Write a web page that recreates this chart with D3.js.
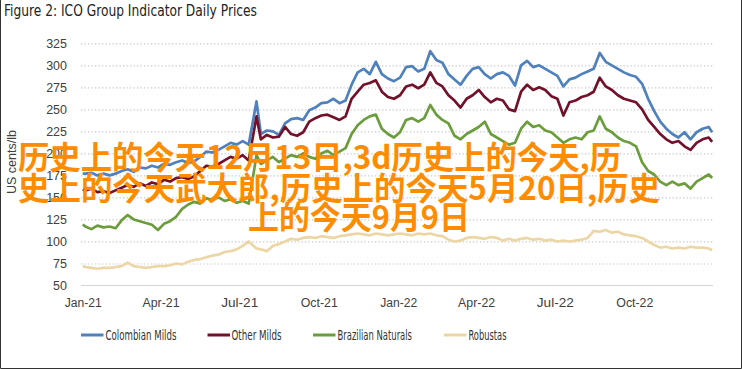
<!DOCTYPE html>
<html>
<head>
<meta charset="utf-8">
<script src="https://cdn.jsdelivr.net/npm/d3@7"></script>
<style>
  html, body { margin: 0; padding: 0; background: #fff; }
  svg { display: block; }
</style>
</head>
<body>
<div id="chart"></div>
<script>
// ---------------- DATA ----------------
const dates = [
  "2021-01-01",
  "2021-01-04","2021-01-11","2021-01-18","2021-01-25","2021-02-01","2021-02-08","2021-02-15","2021-02-22","2021-03-01","2021-03-08","2021-03-15","2021-03-22","2021-03-29",
  "2021-04-05","2021-04-12","2021-04-19","2021-04-26","2021-05-03","2021-05-10","2021-05-17","2021-05-24","2021-05-31","2021-06-07","2021-06-14","2021-06-21","2021-06-28",
  "2021-07-05","2021-07-12","2021-07-21","2021-07-26","2021-08-02","2021-08-09","2021-08-16","2021-08-23","2021-08-30","2021-09-06","2021-09-13","2021-09-20","2021-09-27",
  "2021-10-04","2021-10-11","2021-10-18","2021-10-25","2021-11-01","2021-11-08","2021-11-15","2021-11-22","2021-11-29","2021-12-06","2021-12-13","2021-12-20","2021-12-27",
  "2022-01-03","2022-01-10","2022-01-17","2022-01-24","2022-01-31","2022-02-07","2022-02-14","2022-02-21","2022-02-28","2022-03-07","2022-03-14","2022-03-21","2022-03-28",
  "2022-04-04","2022-04-11","2022-04-18","2022-04-25","2022-05-02","2022-05-09","2022-05-16","2022-05-23","2022-05-30","2022-06-06","2022-06-13","2022-06-20","2022-06-27",
  "2022-07-04","2022-07-11","2022-07-18","2022-07-25","2022-08-01","2022-08-08","2022-08-15","2022-08-22","2022-08-29","2022-09-05","2022-09-12","2022-09-19","2022-09-26",
  "2022-10-03","2022-10-10","2022-10-17","2022-10-24","2022-10-31","2022-11-07","2022-11-14","2022-11-21","2022-11-28","2022-12-05","2022-12-12","2022-12-19","2022-12-26",
  "2022-12-30"
];

const colombianMilds = [
  177,
  177,178,175,177,175,177,180,182,179,184,183,186,184,
  188,187,190,192,189,191,196,202,201,204,208,212,210,
  214,210,259,222,226,225,221,234,239,240,238,249,252,
  257,258,262,257,260,278,292,296,290,304,290,285,282,
  286,298,299,293,296,316,306,303,290,284,278,288,296,
  298,290,285,290,292,288,277,300,305,298,300,296,292,
  288,276,284,286,290,293,296,314,304,300,296,292,289,
  287,279,262,248,236,228,222,218,224,216,224,228,230,
  224
];

const otherMilds = [
  159,
  158,160,156,157,155,158,161,164,162,166,163,167,165,
  170,168,172,173,171,174,180,186,185,188,192,196,194,
  198,192,242,216,221,218,219,230,222,220,224,236,240,
  243,244,241,238,242,262,270,278,280,283,270,264,262,
  266,276,278,274,278,292,280,276,266,260,252,262,266,
  272,264,258,262,260,250,248,270,278,272,275,272,265,
  262,243,258,260,264,266,270,286,276,272,266,262,260,
  258,250,238,230,222,216,212,214,208,204,212,216,218,
  213
];

const brazilianNaturals = [
  119,
  117,114,118,116,117,115,124,130,125,123,121,119,113,
  120,123,128,137,142,145,143,149,147,150,146,148,144,
  146,143,198,188,192,196,190,194,198,196,200,196,194,
  200,203,198,202,206,222,232,238,242,244,228,222,218,
  224,238,240,236,240,255,244,238,234,220,216,222,226,
  230,236,222,218,214,210,212,228,236,230,232,226,224,
  218,212,216,218,216,224,226,242,228,224,218,214,212,
  208,190,180,176,168,164,168,164,166,160,168,172,176,
  172
];

const robustas = [
  72,
  71,70,69,70,70,71,72,76,72,71,70,71,72,
  72,73,75,74,77,79,80,82,84,85,88,89,91,
  95,100,92,91,89,95,97,100,103,102,104,105,104,
  106,105,104,106,107,108,109,108,107,109,108,107,108,
  109,108,107,109,108,109,107,106,102,100,101,104,105,
  104,103,105,104,101,103,101,103,104,102,103,101,102,
  100,101,100,101,102,104,112,111,113,110,111,108,107,
  106,104,100,96,93,94,92,93,92,94,93,93,92,
  90
];

const seriesNames = ["Colombian Milds", "Other Milds", "Brazilian Naturals", "Robustas"];
const yTicks = [50, 75, 100, 125, 150, 175, 200, 225, 250, 275, 300, 325];
const xTickDates = ["2021-01-01","2021-04-01","2021-07-01","2021-10-01","2022-01-01","2022-04-01","2022-07-01","2022-10-01"];
const xTickLabels = ["Jan-21","Apr-21","Jul-21","Oct-21","Jan-22","Apr-22","Jul-22","Oct-22"];
const titleText = "Figure 2: ICO Group Indicator Daily Prices";
const yAxisTitle = "US cents/lb";
const overlayLines = [
  "历史上的今天12月13日,3d历史上的今天,历",
  "史上的今天武大郎,历史上的今天5月20日,历史",
  "上的今天9月9日"
];

// ---------------- CHART ----------------
const W = 742, H = 369;
const colors = ["#4f81bd", "#73112b", "#6b9d3c", "#ecd6a6"];
const parse = d3.timeParse("%Y-%m-%d");
const dts = dates.map(parse);
const series = [colombianMilds, otherMilds, brazilianNaturals, robustas];

const svg = d3.select("#chart").append("svg")
  .attr("width", W).attr("height", H)
  .attr("viewBox", `0 0 ${W} ${H}`);

svg.append("rect").attr("width", W).attr("height", H).attr("fill", "#fff");

const x = d3.scaleTime()
  .domain([parse("2020-12-30"), parse("2022-12-31")])
  .range([81, 713]);
const y = d3.scaleLinear().domain([50, 325]).range([285.5, 43.3]);

const narrow = "'Liberation Sans Narrow','DejaVu Sans Condensed','Arial Narrow',sans-serif";
const tickFont = "'Liberation Sans','DejaVu Sans',sans-serif";

// title
svg.append("text")
  .attr("x", 4).attr("y", 15.5)
  .attr("font-family", narrow).attr("font-size", 15.5)
  .attr("fill", "#222")
  .attr("textLength", 253).attr("lengthAdjust", "spacingAndGlyphs")
  .text(titleText);

// gridlines
const grid = svg.append("g").attr("transform", "translate(81,0)")
  .call(d3.axisLeft(y).tickValues(yTicks.filter(v => v !== 50)).tickSize(-632).tickFormat(""));
grid.select(".domain").remove();
grid.selectAll("line").attr("stroke", "#c8c8c8").attr("stroke-width", 1.2).attr("stroke-dasharray", "1.3,2.2");

// baseline
svg.append("line")
  .attr("x1", 81).attr("x2", 713)
  .attr("y1", y(50)).attr("y2", y(50))
  .attr("stroke", "#d4d4d4").attr("stroke-width", 1.2);

// y axis labels
const yAx = svg.append("g").attr("transform", "translate(81,0)")
  .call(d3.axisLeft(y).tickValues(yTicks).tickSize(0).tickPadding(14));
yAx.select(".domain").remove();
yAx.selectAll("text").attr("font-family", tickFont).attr("font-size", 12.5).attr("fill", "#404040");

// x axis labels
const xAx = svg.append("g").attr("transform", `translate(0,${y(50)})`)
  .call(d3.axisBottom(x).tickValues(xTickDates.map(parse)).tickSize(0)
    .tickFormat((d, i) => xTickLabels[i]));
xAx.select(".domain").remove();
xAx.selectAll("text").attr("y", 21.5).attr("dy", 0)
  .attr("font-family", tickFont).attr("font-size", 12.5).attr("fill", "#404040")
  .attr("textLength", 37).attr("lengthAdjust", "spacingAndGlyphs");

// y axis title
svg.append("text")
  .attr("transform", "translate(16,162) rotate(-90)")
  .attr("text-anchor", "middle")
  .attr("font-family", tickFont).attr("font-size", 13).attr("fill", "#404040")
  .attr("textLength", 64).attr("lengthAdjust", "spacingAndGlyphs")
  .text(yAxisTitle);

// lines
const line = d3.line().x((d, i) => x(dts[i])).y(d => y(d));
series.forEach((s, k) => {
  svg.append("path")
    .datum(s)
    .attr("fill", "none")
    .attr("stroke", colors[k])
    .attr("stroke-width", 2.7)
    .attr("stroke-linejoin", "round")
    .attr("d", line);
});

// legend
const legendItems = [
  {lx: 81, tx: 105.5, tw: 71},
  {lx: 207.5, tx: 231.5, tw: 50},
  {lx: 313, tx: 337.5, tw: 74.5},
  {lx: 444, tx: 468.5, tw: 38}
];
legendItems.forEach((it, k) => {
  svg.append("line")
    .attr("x1", it.lx).attr("x2", it.lx + 22.5)
    .attr("y1", 335).attr("y2", 335)
    .attr("stroke", colors[k]).attr("stroke-width", 3);
  svg.append("text")
    .attr("x", it.tx).attr("y", 339.5)
    .attr("font-family", narrow).attr("font-size", 14.5).attr("fill", "#333")
    .attr("textLength", it.tw).attr("lengthAdjust", "spacingAndGlyphs")
    .text(seriesNames[k]);
});

// border
svg.append("path")
  .attr("d", `M0.5,0 V${H - 0.5} H${W - 0.5} V0`)
  .attr("fill", "none").attr("stroke", "#333").attr("stroke-width", 1);

// overlay text
const ov = [
  {x: 18, y: 169, w: 603},
  {x: 18, y: 199.5, w: 642},
  {x: 248, y: 229, w: 222}
];
overlayLines.forEach((t, i) => {
  svg.append("text")
    .attr("x", ov[i].x).attr("y", ov[i].y)
    .attr("font-family", "'Noto Sans CJK SC','Noto Sans CJK JP',sans-serif")
    .attr("font-weight", 700).attr("font-size", 32)
    .attr("fill", "#ff8c00")
    .attr("textLength", ov[i].w).attr("lengthAdjust", "spacingAndGlyphs")
    .text(t);
});
</script>
</body>
</html>
